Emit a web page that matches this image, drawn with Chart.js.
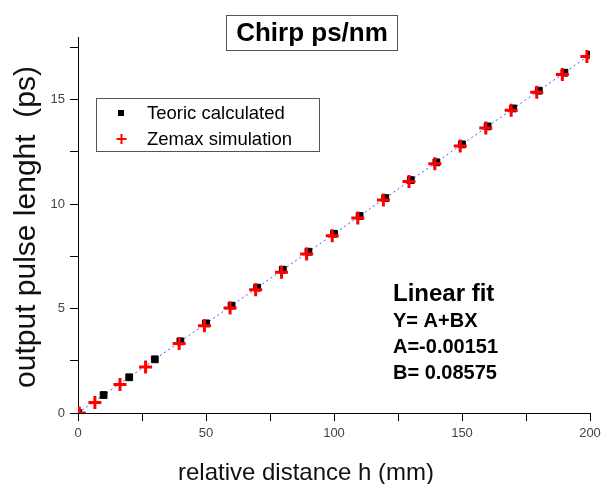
<!DOCTYPE html>
<html>
<head>
<meta charset="utf-8">
<script src="https://cdn.jsdelivr.net/npm/chart.js@4/dist/chart.umd.min.js"></script>
<style>
  html, body { margin: 0; padding: 0; background: #fff; }
  #wrap { width: 602px; height: 484px; }
</style>
</head>
<body>
<div id="wrap"><canvas id="plot" width="602" height="484"></canvas></div>
<script>
// values
const teoricX = [0, 10, 20, 30, 40, 50, 60, 70, 80, 90, 100, 110, 120, 130, 140, 150, 160, 170, 180, 190, 200];
const teoricY = [0.00, 0.86, 1.71, 2.57, 3.43, 4.29, 5.14, 6.00, 6.86, 7.72, 8.58, 9.43, 10.29, 11.15, 12.00, 12.86, 13.72, 14.58, 15.43, 16.29, 17.15];

const zemaxX = [0.5, 6.6, 16.4, 26.4, 39.5, 49.4, 59.4, 69.4, 79.5, 89.3, 99.3, 109.3, 119.3, 129.3, 139.4, 149.3, 159.3, 169.2, 179.2, 189.2, 198.8];
const zemaxY = [0.00, 0.50, 1.37, 2.20, 3.33, 4.18, 5.03, 5.90, 6.74, 7.61, 8.48, 9.34, 10.20, 11.08, 11.93, 12.78, 13.64, 14.49, 15.35, 16.20, 17.07];

// linear fit Y = A + BX, drawn end to end
const fitX = [0, 200];
const fitY = [-0.0015, 17.148];

const xTicks = [0, 25, 50, 75, 100, 125, 150, 175, 200];
const yTicks = [0, 2.5, 5, 7.5, 10, 12.5, 15, 17.5];

const seriesNames = ["Teoric calculated", "Zemax simulation"];
const chartTitle = "Chirp ps/nm";
const xTitle = "relative distance h (mm)";
const yTitle = "output pulse lenght  (ps)";
const fitLines = ["Y= A+BX", "A=-0.00151", "B= 0.08575"];

const FONT = 'Arial, "Liberation Sans", sans-serif';

function pts(xs, ys) { return xs.map((x, i) => ({ x: x, y: ys[i] })); }

const overlay = {
  id: "overlay",
  afterDraw(chart) {
    const ctx = chart.ctx;
    ctx.save();

    // title box
    ctx.strokeStyle = "#555";
    ctx.lineWidth = 1;
    ctx.fillStyle = "#fff";
    ctx.fillRect(226.5, 15.5, 171, 35);
    ctx.strokeRect(226.5, 15.5, 171, 35);
    ctx.fillStyle = "#000";
    ctx.font = "bold 26px " + FONT;
    ctx.textAlign = "center";
    ctx.textBaseline = "middle";
    ctx.fillText(chartTitle, 312, 34);

    // legend box
    ctx.fillStyle = "#fff";
    ctx.fillRect(96.5, 98.5, 223, 53);
    ctx.strokeRect(96.5, 98.5, 223, 53);
    ctx.fillStyle = "#000";
    ctx.fillRect(118, 110, 6, 6);
    ctx.strokeStyle = "#ff0000";
    ctx.lineWidth = 2;
    ctx.beginPath();
    ctx.moveTo(116.5, 139); ctx.lineTo(126.5, 139);
    ctx.moveTo(121.5, 134); ctx.lineTo(121.5, 144);
    ctx.stroke();
    ctx.fillStyle = "#000";
    ctx.font = "18.5px " + FONT;
    ctx.textAlign = "left";
    ctx.fillText(seriesNames[0], 147, 114);
    ctx.fillText(seriesNames[1], 147, 140);

    // fit annotation
    ctx.textBaseline = "alphabetic";
    ctx.font = "bold 24px " + FONT;
    ctx.fillText("Linear fit", 393, 301);
    ctx.font = "bold 20px " + FONT;
    ctx.fillText(fitLines[0], 393, 327);
    ctx.fillText(fitLines[1], 393, 353);
    ctx.fillText(fitLines[2], 393, 379);

    // axis titles
    ctx.fillStyle = "#111";
    ctx.font = "24px " + FONT;
    ctx.textAlign = "center";
    ctx.fillText(xTitle, 306, 480);
    ctx.translate(35, 227);
    ctx.rotate(-Math.PI / 2);
    ctx.font = "30px " + FONT;
    ctx.fillText(yTitle, 0, 0);
    ctx.restore();
  }
};

new Chart(document.getElementById("plot"), {
  type: "scatter",
  data: {
    datasets: [
      {
        label: seriesNames[1],
        data: pts(zemaxX, zemaxY),
        pointStyle: "cross",
        pointRadius: 6.5,
        pointBorderWidth: 3,
        pointBorderColor: "#ff0000",
        pointBackgroundColor: "#ff0000",
        order: 0
      },
      {
        label: seriesNames[0],
        data: pts(teoricX, teoricY),
        pointStyle: "rect",
        pointRadius: 4.8,
        pointBorderWidth: 1,
        pointBorderColor: "#000",
        pointBackgroundColor: "#000",
        order: 1
      },
      {
        label: "fit",
        data: pts(fitX, fitY),
        showLine: true,
        pointRadius: 0,
        borderColor: "#4d4dff",
        borderWidth: 1,
        borderDash: [2, 3],
        order: 2
      }
    ]
  },
  options: {
    responsive: false,
    animation: false,
    events: [],
    layout: { padding: { top: 37, right: 12, left: 0, bottom: 0 } },
    plugins: {
      legend: { display: false },
      title: { display: false },
      tooltip: { enabled: false }
    },
    scales: {
      x: {
        type: "linear",
        min: 0,
        max: 200,
        afterFit(scale) {
          scale.height = 71;
          scale.paddingLeft = 0;
          scale.paddingRight = 0;
        },
        afterBuildTicks(scale) { scale.ticks = xTicks.map(v => ({ value: v })); },
        border: { display: true, color: "#000", width: 1 },
        grid: { drawOnChartArea: false, drawTicks: true, tickLength: 8, color: "#000" },
        ticks: {
          autoSkip: false,
          maxRotation: 0,
          padding: 5,
          color: "#444",
          font: { family: FONT, size: 13 },
          callback: v => (v % 50 === 0 ? String(v) : "")
        }
      },
      y: {
        type: "linear",
        min: 0,
        max: 18,
        afterFit(scale) {
          scale.width = 78;
          scale.paddingTop = 0;
          scale.paddingBottom = 0;
        },
        afterBuildTicks(scale) { scale.ticks = yTicks.map(v => ({ value: v })); },
        border: { display: true, color: "#000", width: 1 },
        grid: { drawOnChartArea: false, drawTicks: true, tickLength: 8, color: "#000" },
        ticks: {
          autoSkip: false,
          padding: 5,
          color: "#444",
          font: { family: FONT, size: 13 },
          callback: v => (v % 5 === 0 ? String(v) : "")
        }
      }
    }
  },
  plugins: [overlay]
});
</script>
</body>
</html>
